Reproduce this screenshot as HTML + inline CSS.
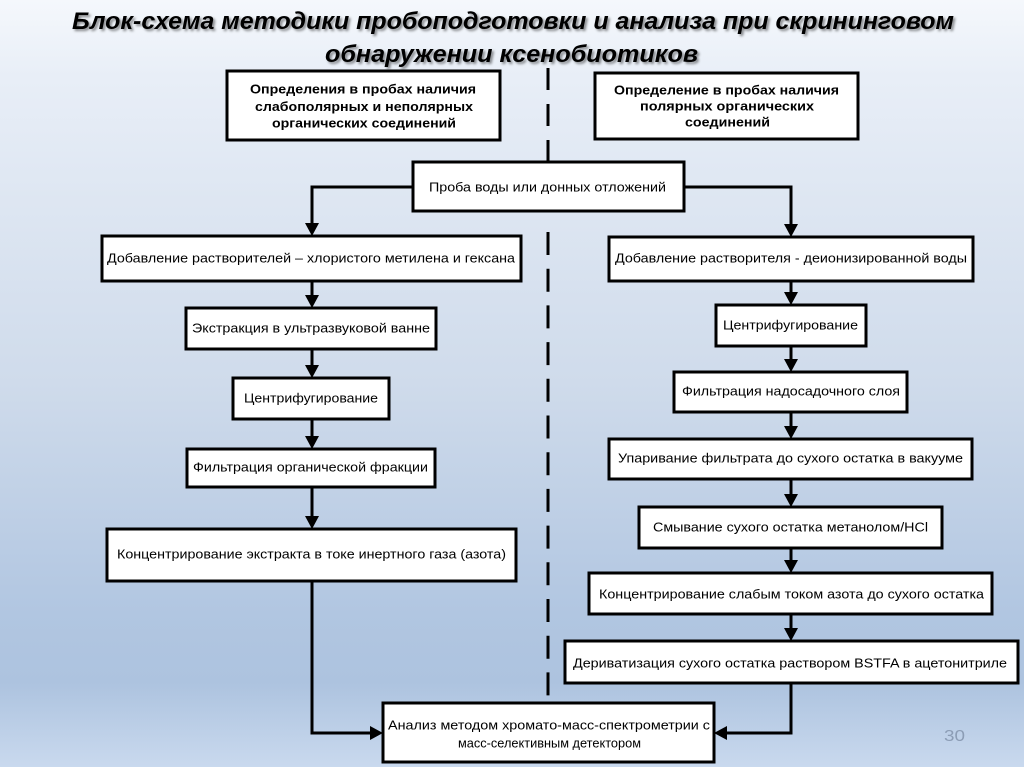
<!DOCTYPE html>
<html><head><meta charset="utf-8">
<style>
html,body{margin:0;padding:0;width:1024px;height:767px;overflow:hidden;}
svg{display:block;}
text{font-family:"Liberation Sans","Noto Sans CJK SC",sans-serif;fill:#000;}
</style></head>
<body>
<svg width="1024" height="767" viewBox="0 0 1024 767" xmlns="http://www.w3.org/2000/svg">
<defs>
<linearGradient id="bg" x1="0" y1="0" x2="0" y2="1">
<stop offset="0" stop-color="#f5f8fc"/>
<stop offset="0.1" stop-color="#e8eef7"/>
<stop offset="0.5" stop-color="#cfdbeb"/>
<stop offset="0.8" stop-color="#b1c6e1"/>
<stop offset="0.89" stop-color="#adc3df"/>
<stop offset="1" stop-color="#c9d9ee"/>
</linearGradient>
<filter id="blur" x="-5%" y="-50%" width="110%" height="200%"><feGaussianBlur stdDeviation="1.3"/></filter>
</defs>
<rect x="0" y="0" width="1024" height="767" fill="url(#bg)"/>

<!-- Title -->
<g font-weight="bold" font-style="italic" font-size="24">
<text x="74" y="31" textLength="882" lengthAdjust="spacingAndGlyphs" style="fill:rgba(0,0,0,0.45)" filter="url(#blur)">Блок-схема методики пробоподготовки и анализа при скрининговом</text>
<text x="327" y="64" textLength="373" lengthAdjust="spacingAndGlyphs" style="fill:rgba(0,0,0,0.45)" filter="url(#blur)">обнаружении ксенобиотиков</text>
<text x="72" y="29" textLength="882" lengthAdjust="spacingAndGlyphs">Блок-схема методики пробоподготовки и анализа при скрининговом</text>
<text x="325" y="62" textLength="373" lengthAdjust="spacingAndGlyphs">обнаружении ксенобиотиков</text>
</g>

<!-- Dashed separator -->
<line x1="548" y1="68" x2="548" y2="162" stroke="#000" stroke-width="3" stroke-dasharray="22 14"/>
<line x1="548" y1="232" x2="548" y2="696" stroke="#000" stroke-width="3" stroke-dasharray="23 13.7"/>

<!-- Connectors -->
<g stroke="#000" stroke-width="3" fill="none">
<polyline points="413,187 312,187 312,226"/>
<polyline points="684,187 791,187 791,227"/>
<line x1="312" y1="281" x2="312" y2="298"/>
<line x1="312" y1="349" x2="312" y2="368"/>
<line x1="312" y1="419" x2="312" y2="439"/>
<line x1="312" y1="487" x2="312" y2="519"/>
<polyline points="312,581 312,733 373,733"/>
<line x1="791" y1="281" x2="791" y2="295"/>
<line x1="791" y1="346" x2="791" y2="362"/>
<line x1="791" y1="412" x2="791" y2="429"/>
<line x1="791" y1="479" x2="791" y2="497"/>
<line x1="791" y1="548" x2="791" y2="563"/>
<line x1="791" y1="614" x2="791" y2="631"/>
<polyline points="791,683 791,733 724,733"/>
</g>
<g fill="#000">
<polygon points="305,223 319,223 312,236"/>
<polygon points="784,224 798,224 791,237"/>
<polygon points="305,295 319,295 312,308"/>
<polygon points="305,365 319,365 312,378"/>
<polygon points="305,436 319,436 312,449"/>
<polygon points="305,516 319,516 312,529"/>
<polygon points="370,726 370,740 383,733"/>
<polygon points="784,292 798,292 791,305"/>
<polygon points="784,359 798,359 791,372"/>
<polygon points="784,426 798,426 791,439"/>
<polygon points="784,494 798,494 791,507"/>
<polygon points="784,560 798,560 791,573"/>
<polygon points="784,628 798,628 791,641"/>
<polygon points="727,726 727,740 714,733"/>
</g>

<!-- Boxes -->
<g fill="#fff" stroke="#000" stroke-width="3">
<rect x="227" y="71" width="273" height="69"/>
<rect x="595" y="73" width="263" height="66"/>
<rect x="413" y="162" width="271" height="49"/>
<rect x="102" y="236" width="419" height="45"/>
<rect x="186" y="308" width="250" height="41"/>
<rect x="233" y="378" width="156" height="41"/>
<rect x="187" y="449" width="248" height="38"/>
<rect x="107" y="529" width="409" height="52"/>
<rect x="609" y="237" width="364" height="44"/>
<rect x="716" y="305" width="150" height="41"/>
<rect x="674" y="372" width="233" height="40"/>
<rect x="609" y="439" width="363" height="40"/>
<rect x="639" y="507" width="303" height="41"/>
<rect x="589" y="573" width="403" height="41"/>
<rect x="565" y="641" width="453" height="42"/>
<rect x="383" y="703" width="331" height="59"/>
</g>

<!-- Box texts -->
<g font-size="13" font-weight="bold">
<text x="250" y="93.5" textLength="226" lengthAdjust="spacingAndGlyphs">Определения в пробах наличия</text>
<text x="255" y="111" textLength="218" lengthAdjust="spacingAndGlyphs">слабополярных и неполярных</text>
<text x="272" y="127.5" textLength="184" lengthAdjust="spacingAndGlyphs">органических соединений</text>
<text x="614" y="94.5" textLength="225" lengthAdjust="spacingAndGlyphs">Определение в пробах наличия</text>
<text x="640" y="110.5" textLength="174" lengthAdjust="spacingAndGlyphs">полярных органических</text>
<text x="685" y="126.5" textLength="85" lengthAdjust="spacingAndGlyphs">соединений</text>
</g>
<g font-size="13">
<text x="429" y="191.5" textLength="237" lengthAdjust="spacingAndGlyphs">Проба воды или донных отложений</text>
<text x="107" y="262.5" textLength="408" lengthAdjust="spacingAndGlyphs">Добавление растворителей – хлористого метилена и гексана</text>
<text x="192" y="332.5" textLength="238" lengthAdjust="spacingAndGlyphs">Экстракция в ультразвуковой ванне</text>
<text x="244" y="402.5" textLength="134" lengthAdjust="spacingAndGlyphs">Центрифугирование</text>
<text x="193" y="471.5" textLength="235" lengthAdjust="spacingAndGlyphs">Фильтрация органической фракции</text>
<text x="117" y="558.5" textLength="389" lengthAdjust="spacingAndGlyphs">Концентрирование экстракта в токе инертного газа (азота)</text>
<text x="615" y="262.5" textLength="352" lengthAdjust="spacingAndGlyphs">Добавление растворителя - деионизированной воды</text>
<text x="723" y="329.5" textLength="135" lengthAdjust="spacingAndGlyphs">Центрифугирование</text>
<text x="682" y="395.5" textLength="218" lengthAdjust="spacingAndGlyphs">Фильтрация надосадочного слоя</text>
<text x="618" y="462.5" textLength="345" lengthAdjust="spacingAndGlyphs">Упаривание фильтрата до сухого остатка в вакууме</text>
<text x="653" y="531.5" textLength="275" lengthAdjust="spacingAndGlyphs">Смывание сухого остатка метанолом/HCl</text>
<text x="599" y="598.5" textLength="385" lengthAdjust="spacingAndGlyphs">Концентрирование слабым током азота до сухого остатка</text>
<text x="573" y="667.5" textLength="434" lengthAdjust="spacingAndGlyphs">Дериватизация сухого остатка раствором BSTFA в ацетонитриле</text>
<text x="388" y="729.5" textLength="322" lengthAdjust="spacingAndGlyphs">Анализ методом хромато-масс-спектрометрии с</text>
<text x="458" y="747.5" textLength="183" lengthAdjust="spacingAndGlyphs">масс-селективным детектором</text>
</g>

<!-- Page number -->
<text x="944" y="741" font-size="16" style="fill:#8c9db5" textLength="21" lengthAdjust="spacingAndGlyphs">30</text>
</svg>
</body></html>
